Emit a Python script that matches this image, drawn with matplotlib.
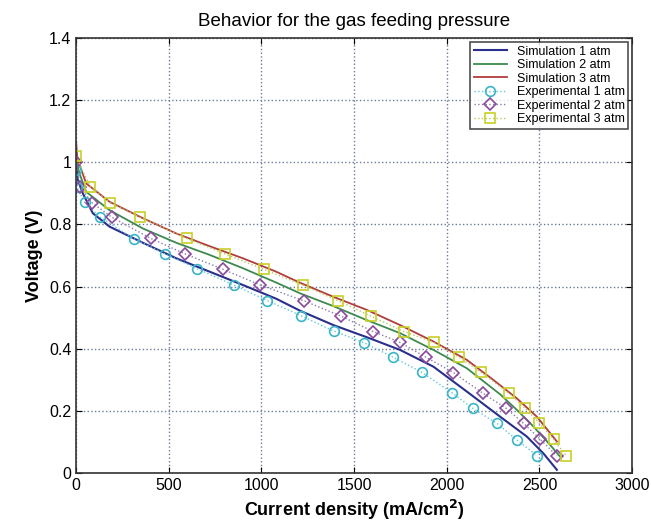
import matplotlib.pyplot as plt

plt.rcParams['font.family'] = ['Liberation Sans', 'DejaVu Sans']

# Simulation curves
sim1_x = [0, 3, 9, 36, 90, 180, 360, 540, 720, 900, 1079, 1209, 1388, 1568, 1748, 1928, 2108, 2288, 2432, 2521, 2594]
sim1_y = [1.035, 0.98, 0.943, 0.90, 0.836, 0.793, 0.741, 0.691, 0.648, 0.605, 0.561, 0.522, 0.476, 0.437, 0.396, 0.342, 0.262, 0.181, 0.117, 0.063, 0.010]

sim2_x = [0, 3, 18, 54, 180, 360, 540, 720, 900, 1079, 1209, 1388, 1568, 1748, 1928, 2108, 2288, 2378, 2468, 2558, 2612]
sim2_y = [1.05, 1.0, 0.964, 0.905, 0.846, 0.787, 0.741, 0.702, 0.659, 0.613, 0.578, 0.537, 0.492, 0.450, 0.396, 0.337, 0.253, 0.203, 0.149, 0.090, 0.052]

sim3_x = [0, 3, 9, 54, 180, 360, 540, 720, 900, 1079, 1209, 1388, 1568, 1748, 1928, 2108, 2252, 2378, 2486, 2558, 2594]
sim3_y = [1.066, 1.03, 1.007, 0.932, 0.873, 0.820, 0.771, 0.730, 0.691, 0.648, 0.612, 0.567, 0.525, 0.476, 0.423, 0.364, 0.299, 0.240, 0.181, 0.128, 0.101]

# Experimental points
exp1_x = [0, 5, 45, 130, 311, 477, 654, 850, 1032, 1213, 1389, 1554, 1712, 1865, 2030, 2140, 2270, 2378, 2489]
exp1_y = [0.975, 0.92, 0.871, 0.823, 0.754, 0.706, 0.657, 0.605, 0.555, 0.506, 0.457, 0.419, 0.372, 0.324, 0.257, 0.208, 0.160, 0.106, 0.055]

exp2_x = [0, 22, 85, 193, 403, 588, 795, 993, 1230, 1428, 1604, 1748, 1889, 2036, 2194, 2320, 2414, 2504, 2594]
exp2_y = [1.0, 0.921, 0.870, 0.823, 0.755, 0.705, 0.655, 0.605, 0.554, 0.505, 0.455, 0.42, 0.372, 0.323, 0.257, 0.208, 0.160, 0.108, 0.055]

exp3_x = [0, 76, 183, 345, 597, 804, 1014, 1223, 1415, 1590, 1770, 1932, 2068, 2185, 2336, 2423, 2500, 2576, 2644]
exp3_y = [1.02, 0.921, 0.870, 0.823, 0.755, 0.705, 0.655, 0.605, 0.554, 0.505, 0.455, 0.42, 0.372, 0.324, 0.256, 0.208, 0.160, 0.108, 0.055]

fig = plt.figure(figsize=(6.51, 5.29), dpi=100)
ax = fig.add_axes([0.117, 0.106, 0.854, 0.822])

ax.plot(sim1_x, sim1_y, color='#2a2f8c', lw=1.5, label='Simulation 1 atm')
ax.plot(sim2_x, sim2_y, color='#3d8a4e', lw=1.3, label='Simulation 2 atm')
ax.plot(sim3_x, sim3_y, color='#b23c3c', lw=1.3, label='Simulation 3 atm')
ax.plot(exp1_x, exp1_y, ls=':', color='#5fc8d8', lw=1.0, marker='o', ms=7,
        mfc='none', mec='#3ab5c8', mew=1.2, label='Experimental 1 atm')
ax.plot(exp2_x, exp2_y, ls=':', color='#8a7aa8', lw=1.0, marker='D', ms=6,
        mfc='none', mec='#8a4a9c', mew=1.2, label='Experimental 2 atm')
ax.plot(exp3_x, exp3_y, ls=':', color='#b8c860', lw=1.0, marker='s', ms=6.5,
        mfc='none', mec='#c8d028', mew=1.2, label='Experimental 3 atm')

ax.set_xlim(0, 3000)
ax.set_ylim(0, 1.4)
ax.set_xticks([0, 500, 1000, 1500, 2000, 2500, 3000])
ax.set_yticks([0, 0.2, 0.4, 0.6, 0.8, 1.0, 1.2, 1.4])
ax.set_yticklabels(['0', '0.2', '0.4', '0.6', '0.8', '1', '1.2', '1.4'])
ax.tick_params(direction='in', top=True, right=True, labelsize=11.5, length=4)
ax.grid(True, ls=':', color='#6a7a9a', lw=1.0)
for s in ax.spines.values():
    s.set_color('#333333')
    s.set_linewidth(1.2)

ax.set_title('Behavior for the gas feeding pressure', fontsize=13.5, pad=9)
ax.set_xlabel('Current density (mA/cm$^\\mathbf{2}$)', fontsize=13, fontweight='bold')
ax.set_ylabel('Voltage (V)', fontsize=13, fontweight='bold')

leg = ax.legend(loc='upper right', fontsize=9, frameon=True, fancybox=False,
                edgecolor='#222222', handlelength=2.6, borderpad=0.3,
                labelspacing=0.12, borderaxespad=0.3)
leg.get_frame().set_linewidth(1.2)

plt.savefig('out.png', dpi=100)
